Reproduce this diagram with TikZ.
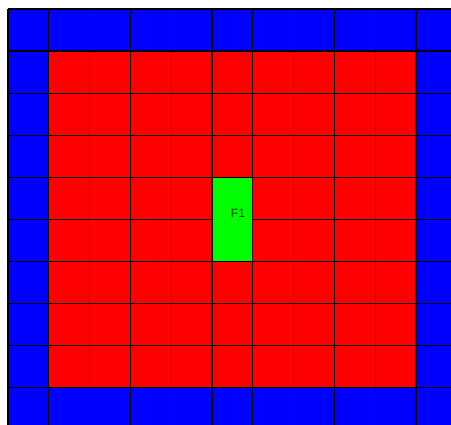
\documentclass[tikz,border=0pt]{standalone}
\usepackage{fontspec}
\setsansfont{Liberation Sans}
\definecolor{cellblue}{RGB}{0,0,255}
\definecolor{cellred}{RGB}{255,0,0}
\definecolor{cellgreen}{RGB}{0,255,0}
\definecolor{labelgreen}{RGB}{0,70,0}
\begin{document}
\begin{tikzpicture}[x=1pt,y=-1pt,
  gridline/.style={draw=black,line width=1.2pt},
  lbl/.style={font=\sffamily\fontsize{12}{13}\selectfont,text=labelgreen,inner sep=0pt}]
\useasboundingbox (0,0) rectangle (451,425);
\fill[white] (0,0) rectangle (451,425);
\def\cw{40.8}
\def\ch{42.1}
\def\ox{8}
\def\oy{9}
\begin{scope}
\clip (0,0) rectangle (451,425);
% blue background over full grid
\fill[cellblue] (\ox,\oy) rectangle ({\ox+11*\cw},{\oy+10*\ch});
% red interior
\fill[cellred] ({\ox+\cw},{\oy+\ch}) rectangle ({\ox+10*\cw},{\oy+9*\ch});
% grid lines
\foreach \i in {0,...,11} {
  \draw[gridline] ({\ox+\i*\cw},\oy) -- ({\ox+\i*\cw},{\oy+10*\ch});
}
\foreach \j in {0,...,10} {
  \draw[gridline] (\ox,{\oy+\j*\ch}) -- ({\ox+11*\cw},{\oy+\j*\ch});
}
% green merged cell
\path[fill=cellgreen,gridline] ({\ox+5*\cw},{\oy+4*\ch}) rectangle ({\ox+6*\cw},{\oy+6*\ch});
\end{scope}
\node[lbl] (f1) at (238,213) {F1};
\end{tikzpicture}
\end{document}
